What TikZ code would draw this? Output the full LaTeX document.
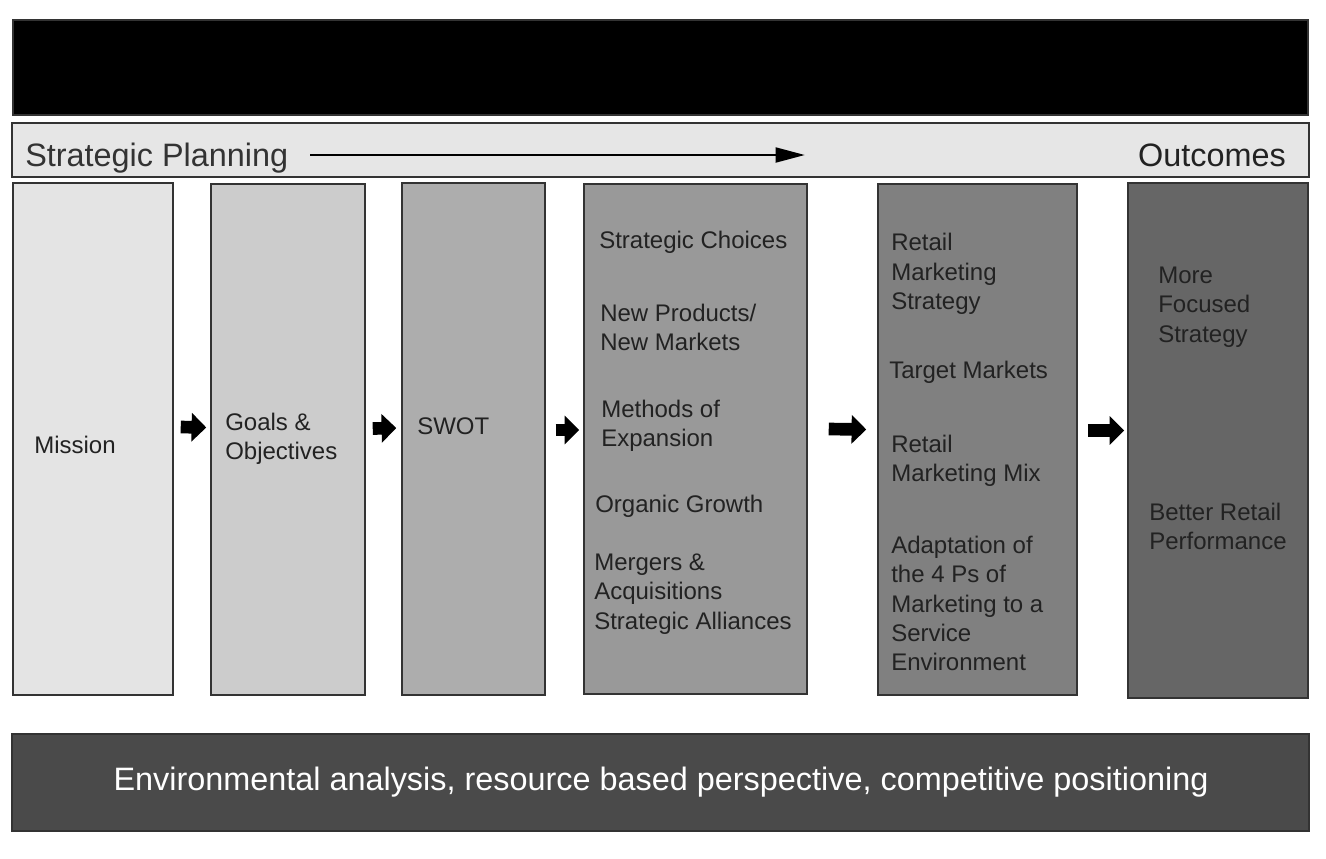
\documentclass[tikz,border=0pt]{standalone}
\usepackage{fontspec}
\setmainfont{Liberation Sans}
\usetikzlibrary{fit,arrows.meta}
\definecolor{edge}{HTML}{333333}
\definecolor{txt}{HTML}{222222}
\definecolor{barfill}{HTML}{E6E6E6}
\definecolor{fillA}{HTML}{E4E4E4}
\definecolor{fillB}{HTML}{CCCCCC}
\definecolor{fillC}{HTML}{ADADAD}
\definecolor{fillD}{HTML}{999999}
\definecolor{fillE}{HTML}{808080}
\definecolor{fillF}{HTML}{666666}
\definecolor{fillG}{HTML}{4A4A4A}
\begin{document}
\begin{tikzpicture}[x=0.75pt,y=-0.75pt,
  panel/.style={draw=edge, line width=1.1pt, inner sep=0pt},
  lbl/.style={anchor=west, inner sep=0pt, align=left, text=txt, font=\fontsize{18}{22}\selectfont},
  bigtxt/.style={inner sep=0pt, font=\fontsize{24.3}{28}\selectfont},
  flow/.style={line width=9.5pt, -{Triangle[length=11pt,width=21pt]}},
  toparrow/.style={line width=2.2pt, -{Triangle[length=22pt,width=11pt]}},
]
\useasboundingbox[fill=white] (0,0) rectangle (1326,858);

% top black bar
\node[panel, fill=black, fit={(13,20)(1308,115)}] (title) {};
% strategic planning bar
\node[panel, fill=barfill, fit={(12,123)(1309,177)}] (plan) {};
\node[bigtxt, anchor=base west, text=edge] (sp) at (25,166) {Strategic Planning};
\node[bigtxt, anchor=base east, text=txt] (out) at (1286,166) {Outcomes};
\coordinate (ts) at (310,155);
\coordinate (te) at (805,155);
\draw[toparrow] (ts) -- (te);

% boxes
\node[panel, fill=fillA, fit={(13,183)(173,695)}] (m) {};
\node[panel, fill=fillB, fit={(211,184)(365,695)}] (g) {};
\node[panel, fill=fillC, fit={(402,183)(545,695)}] (s) {};
\node[panel, fill=fillD, fit={(584,184)(807,694)}] (c) {};
\node[panel, fill=fillE, fit={(878,184)(1077,695)}] (r) {};
\node[panel, fill=fillF, fit={(1128,183)(1308,698)}] (o) {};

% bottom bar
\node[panel, fill=fillG, fit={(12,734)(1309,831)}] (env) {};
\node[bigtxt, text=white] (envt) at (661,782) {Environmental analysis, resource based perspective, competitive positioning};

% arrows
\draw[flow] ([shift={(7,-12)}]m.east) -- ([shift={(-4,-12)}]g.west);
\draw[flow] ([shift={(7,-11)}]g.east) -- ([shift={(-5,-11)}]s.west);
\draw[flow] ([shift={(10,-9)}]s.east) -- ([shift={(-4,-9)}]c.west);
\draw[flow] ([shift={(21,-10)}]c.east) -- ([shift={(-11,-10)}]r.west);
\draw[flow] ([shift={(10,-9)}]r.east) -- ([shift={(-3,-10)}]o.west);

% box texts
\node[lbl] (t1) at (34,445) {Mission};
\node[lbl] (t2) at (225,439) {Goals \&\\Objectives};
\node[lbl] (t3) at (417,426) {SWOT};

\node[lbl] (t4a) at (599,242) {Strategic Choices};
\node[lbl] (t4b) at (600,327.5) {New Products/\\New Markets};
\node[lbl] (t4c) at (601,426) {Methods of\\Expansion};
\node[lbl] (t4d) at (595,506) {Organic Growth};
\node[lbl] (t4e) at (594,594) {Mergers \&\\Acquisitions\\Strategic Alliances};

\node[lbl] (t5a) at (891,274) {Retail\\Marketing\\Strategy};
\node[lbl] (t5b) at (889,372) {Target Markets};
\node[lbl] (t5c) at (891,461) {Retail\\Marketing Mix};
\node[lbl] (t5d) at (891,603.5) {Adaptation of\\the 4 Ps of\\Marketing to a\\Service\\Environment};

\node[lbl] (t6a) at (1158,307) {More\\Focused\\Strategy};
\node[lbl] (t6b) at (1149,526.5) {Better Retail\\Performance};
\end{tikzpicture}
\end{document}
